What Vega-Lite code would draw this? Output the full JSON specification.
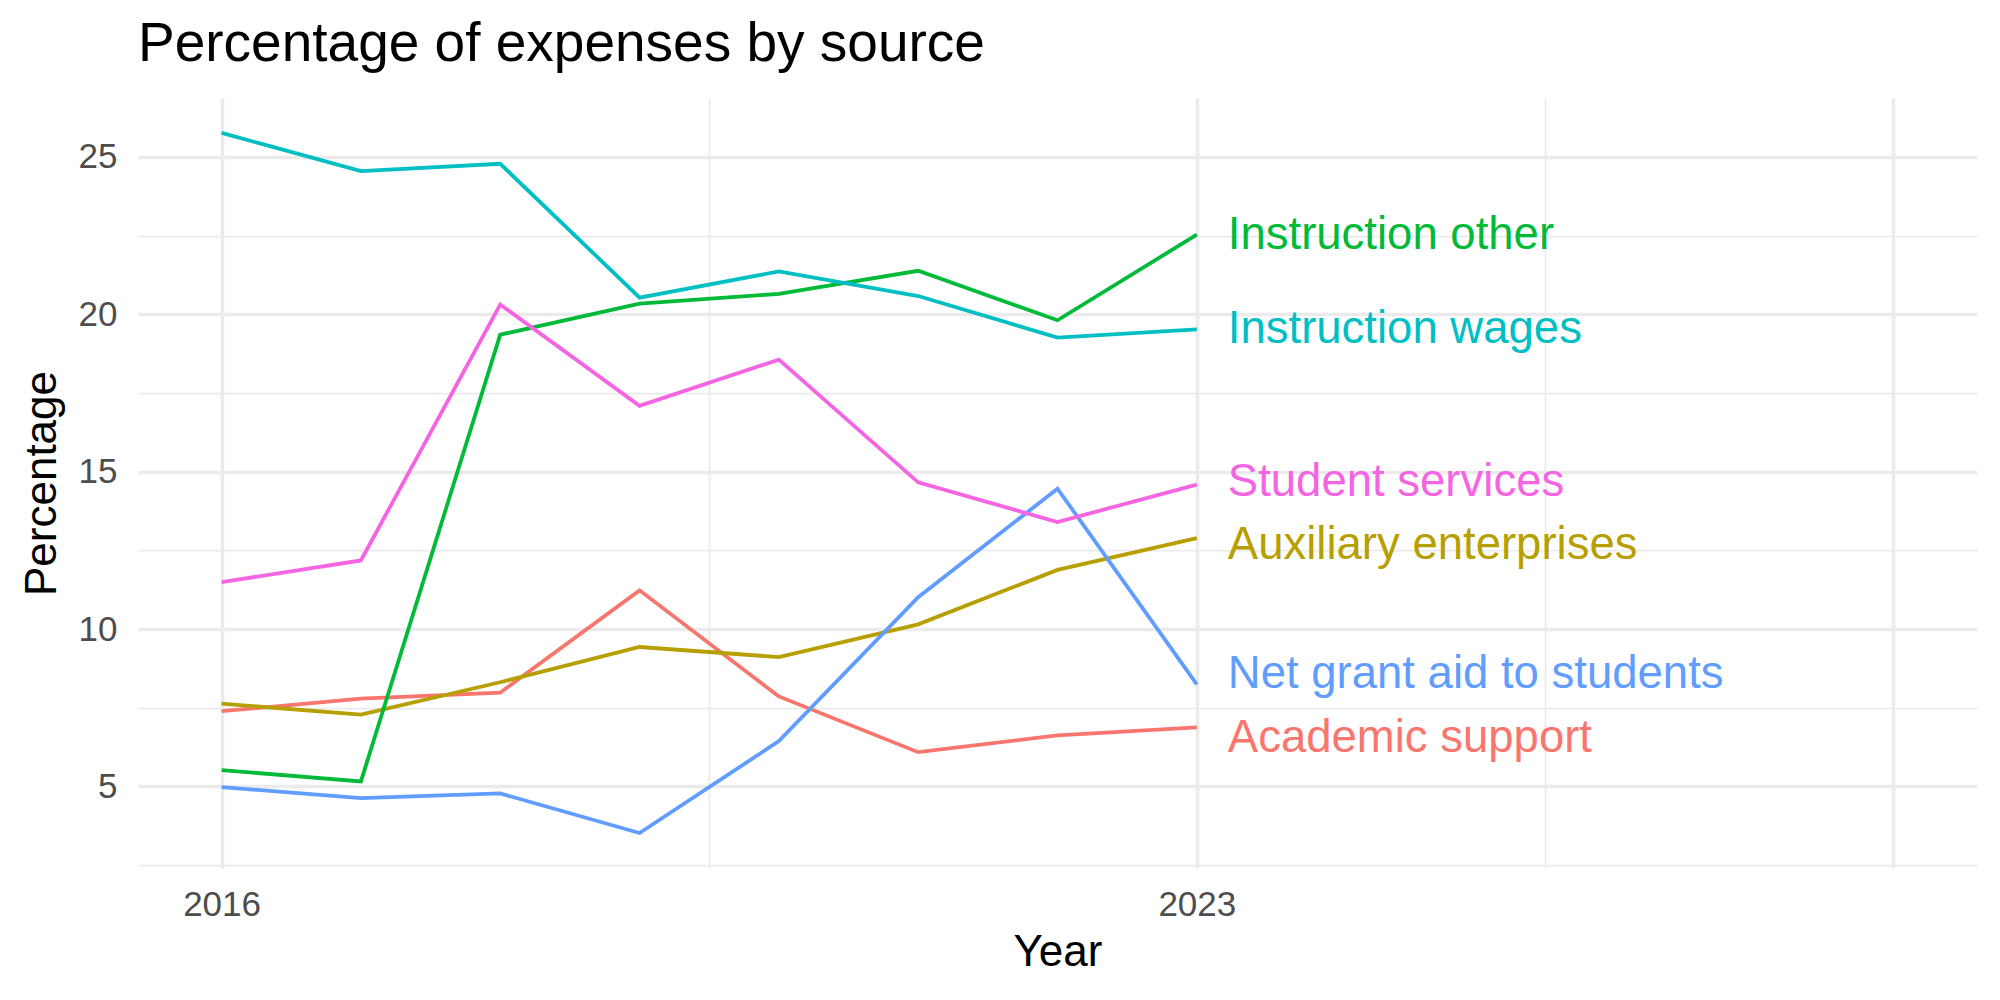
{
  "$schema": "https://vega.github.io/schema/vega-lite/v6.json",
  "width": 1839,
  "height": 770,
  "autosize": "none",
  "padding": {"left": 138, "top": 98, "right": 23, "bottom": 132},
  "background": "white",
  "title": {
    "text": "Percentage of expenses by source",
    "anchor": "start",
    "frame": "group",
    "font": "Liberation Sans",
    "fontSize": 55,
    "fontWeight": "normal",
    "color": "black",
    "baseline": "alphabetic",
    "offset": 36,
    "dy": 54
  },
  "data": {
    "values": [
      {"series": "Academic support", "year": 2016, "value": 7.39},
      {"series": "Academic support", "year": 2017, "value": 7.79},
      {"series": "Academic support", "year": 2018, "value": 7.98},
      {"series": "Academic support", "year": 2019, "value": 11.23},
      {"series": "Academic support", "year": 2020, "value": 7.86},
      {"series": "Academic support", "year": 2021, "value": 6.09},
      {"series": "Academic support", "year": 2022, "value": 6.62},
      {"series": "Academic support", "year": 2023, "value": 6.88},
      {"series": "Auxiliary enterprises", "year": 2016, "value": 7.63},
      {"series": "Auxiliary enterprises", "year": 2017, "value": 7.28},
      {"series": "Auxiliary enterprises", "year": 2018, "value": 8.31},
      {"series": "Auxiliary enterprises", "year": 2019, "value": 9.43},
      {"series": "Auxiliary enterprises", "year": 2020, "value": 9.11},
      {"series": "Auxiliary enterprises", "year": 2021, "value": 10.15},
      {"series": "Auxiliary enterprises", "year": 2022, "value": 11.88},
      {"series": "Auxiliary enterprises", "year": 2023, "value": 12.89},
      {"series": "Instruction other", "year": 2016, "value": 5.52},
      {"series": "Instruction other", "year": 2017, "value": 5.16},
      {"series": "Instruction other", "year": 2018, "value": 19.35},
      {"series": "Instruction other", "year": 2019, "value": 20.34},
      {"series": "Instruction other", "year": 2020, "value": 20.65},
      {"series": "Instruction other", "year": 2021, "value": 21.38},
      {"series": "Instruction other", "year": 2022, "value": 19.81},
      {"series": "Instruction other", "year": 2023, "value": 22.53},
      {"series": "Instruction wages", "year": 2016, "value": 25.76},
      {"series": "Instruction wages", "year": 2017, "value": 24.55},
      {"series": "Instruction wages", "year": 2018, "value": 24.78},
      {"series": "Instruction wages", "year": 2019, "value": 20.53},
      {"series": "Instruction wages", "year": 2020, "value": 21.36},
      {"series": "Instruction wages", "year": 2021, "value": 20.58},
      {"series": "Instruction wages", "year": 2022, "value": 19.26},
      {"series": "Instruction wages", "year": 2023, "value": 19.52},
      {"series": "Net grant aid to students", "year": 2016, "value": 4.98},
      {"series": "Net grant aid to students", "year": 2017, "value": 4.63},
      {"series": "Net grant aid to students", "year": 2018, "value": 4.78},
      {"series": "Net grant aid to students", "year": 2019, "value": 3.52},
      {"series": "Net grant aid to students", "year": 2020, "value": 6.44},
      {"series": "Net grant aid to students", "year": 2021, "value": 11.01},
      {"series": "Net grant aid to students", "year": 2022, "value": 14.46},
      {"series": "Net grant aid to students", "year": 2023, "value": 8.24},
      {"series": "Student services", "year": 2016, "value": 11.49},
      {"series": "Student services", "year": 2017, "value": 12.18},
      {"series": "Student services", "year": 2018, "value": 20.31},
      {"series": "Student services", "year": 2019, "value": 17.09},
      {"series": "Student services", "year": 2020, "value": 18.56},
      {"series": "Student services", "year": 2021, "value": 14.66},
      {"series": "Student services", "year": 2022, "value": 13.4},
      {"series": "Student services", "year": 2023, "value": 14.59}
    ]
  },
  "layer": [
    {
      "mark": {"type": "point", "opacity": 0},
      "encoding": {
        "x": {
          "field": "year",
          "type": "quantitative",
          "scale": {"domain": [2015.4, 2028.6], "nice": false, "zero": false},
          "axis": {
            "orient": "bottom",
            "values": [2019.5, 2025.5],
            "grid": true,
            "gridWidth": 1.75,
            "labels": false,
            "title": null
          }
        },
        "y": {
          "field": "value",
          "type": "quantitative",
          "scale": {"domain": [2.41, 26.87], "nice": false, "zero": false},
          "axis": {
            "orient": "left",
            "values": [2.5, 7.5, 12.5, 17.5, 22.5],
            "grid": true,
            "gridWidth": 1.75,
            "labels": false,
            "title": null
          }
        }
      }
    },
    {
      "mark": {"type": "line", "strokeWidth": 3.8},
      "encoding": {
        "x": {
          "field": "year",
          "type": "quantitative",
          "scale": {"domain": [2015.4, 2028.6], "nice": false, "zero": false},
          "axis": {
            "orient": "bottom",
            "values": [2016, 2023, 2028],
            "format": "d",
            "labelExpr": "datum.value == 2028 ? '' : datum.label",
            "grid": true,
            "gridWidth": 3.5,
            "labelPadding": 19,
            "title": "Year",
            "titlePadding": 8
          }
        },
        "y": {
          "field": "value",
          "type": "quantitative",
          "scale": {"domain": [2.41, 26.87], "nice": false, "zero": false},
          "axis": {
            "orient": "left",
            "values": [5, 10, 15, 20, 25],
            "grid": true,
            "gridWidth": 3.5,
            "labelPadding": 21,
            "title": "Percentage",
            "titlePadding": 14
          }
        },
        "color": {
          "field": "series",
          "type": "nominal",
          "scale": {
            "domain": ["Academic support", "Auxiliary enterprises", "Instruction other", "Instruction wages", "Net grant aid to students", "Student services"],
            "range": ["#F8766D", "#B79F00", "#00BA38", "#00BFC4", "#619CFF", "#F564E3"]
          },
          "legend": null
        }
      }
    },
    {
      "transform": [{"filter": "datum.year == 2023 && (datum.series == 'Instruction other' || datum.series == 'Instruction wages')"}],
      "mark": {"type": "text", "align": "left", "baseline": "middle", "dx": 31, "font": "Liberation Sans", "fontSize": 45.5},
      "encoding": {
        "x": {"field": "year", "type": "quantitative", "axis": null},
        "y": {"field": "value", "type": "quantitative", "axis": null},
        "text": {"field": "series"},
        "color": {"field": "series", "type": "nominal", "legend": null}
      }
    },
    {
      "transform": [{"filter": "datum.year == 2023 && datum.series == 'Student services'"}],
      "mark": {"type": "text", "align": "left", "baseline": "middle", "dx": 31, "dy": -3, "font": "Liberation Sans", "fontSize": 45.5},
      "encoding": {
        "x": {"field": "year", "type": "quantitative", "axis": null},
        "y": {"field": "value", "type": "quantitative", "axis": null},
        "text": {"field": "series"},
        "color": {"field": "series", "type": "nominal", "legend": null}
      }
    },
    {
      "transform": [{"filter": "datum.year == 2023 && datum.series == 'Auxiliary enterprises'"}],
      "mark": {"type": "text", "align": "left", "baseline": "middle", "dx": 31, "dy": 7, "font": "Liberation Sans", "fontSize": 45.5},
      "encoding": {
        "x": {"field": "year", "type": "quantitative", "axis": null},
        "y": {"field": "value", "type": "quantitative", "axis": null},
        "text": {"field": "series"},
        "color": {"field": "series", "type": "nominal", "legend": null}
      }
    },
    {
      "transform": [{"filter": "datum.year == 2023 && datum.series == 'Net grant aid to students'"}],
      "mark": {"type": "text", "align": "left", "baseline": "middle", "dx": 31, "dy": -10, "font": "Liberation Sans", "fontSize": 45.5},
      "encoding": {
        "x": {"field": "year", "type": "quantitative", "axis": null},
        "y": {"field": "value", "type": "quantitative", "axis": null},
        "text": {"field": "series"},
        "color": {"field": "series", "type": "nominal", "legend": null}
      }
    },
    {
      "transform": [{"filter": "datum.year == 2023 && datum.series == 'Academic support'"}],
      "mark": {"type": "text", "align": "left", "baseline": "middle", "dx": 31, "dy": 11, "font": "Liberation Sans", "fontSize": 45.5},
      "encoding": {
        "x": {"field": "year", "type": "quantitative", "axis": null},
        "y": {"field": "value", "type": "quantitative", "axis": null},
        "text": {"field": "series"},
        "color": {"field": "series", "type": "nominal", "legend": null}
      }
    }
  ],
  "resolve": {"axis": {"x": "independent", "y": "independent"}},
  "config": {
    "view": {"stroke": null},
    "axis": {
      "domain": false,
      "ticks": false,
      "tickSize": 0,
      "gridColor": "#EBEBEB",
      "labelFont": "Liberation Sans",
      "labelFontSize": 35,
      "labelColor": "#4D4D4D",
      "titleFont": "Liberation Sans",
      "titleFontSize": 44,
      "titleFontWeight": "normal",
      "titleColor": "black"
    }
  }
}
